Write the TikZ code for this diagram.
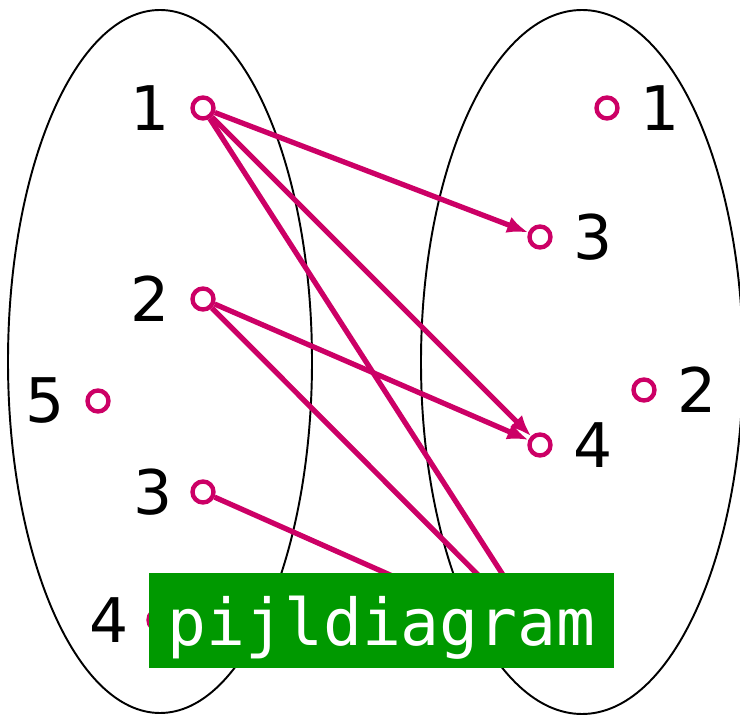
\documentclass[tikz,border=0pt]{standalone}
\usepackage{fontspec}
\setmainfont{DejaVu Sans}
\setmonofont{DejaVu Sans Mono}
\usetikzlibrary{arrows.meta, positioning}
\definecolor{Ink}{HTML}{000000}
\definecolor{Berry}{HTML}{CC0066}
\definecolor{Leaf}{HTML}{009900}

\begin{document}
\begin{tikzpicture}[
  set/.style={draw=Ink, line width=1.1pt},
  dot/.style={circle, draw=Berry, line width=2.5pt, minimum size=0.42cm, inner sep=0pt},
  num/.style={font=\fontsize{35}{35}\selectfont, text=Ink, inner sep=0pt},
  label distance=0.4cm,
  arrow/.style={-{Latex[length=0.42cm, width=0.34cm]}, line width=3pt, draw=Berry},
  link/.style={line width=3pt, draw=Berry},
  tag/.style={fill=Leaf, text=white, font=\ttfamily\fontsize{36.8}{37}\selectfont, minimum width=9.3cm, minimum height=1.9cm, inner sep=0pt, text depth=0pt}
]
\useasboundingbox (0,0) rectangle (14.8,14.28);
% the two sets
\draw[set] (3.2,7.05) ellipse [x radius=3.04, y radius=7.03];
\draw[set] (11.64,7.04) ellipse [x radius=3.22, y radius=7.04];
% left set
\node[dot, label={[num]left:1}] (a1) at (4.06,12.12) {};
\node[dot, label={[num]left:2}] (a2) at (4.06,8.30) {};
\node[dot, label={[num]left:5}] (a5) at (1.96,6.26) {};
\node[dot, label={[num, label distance=0.34cm]left:3}] (a3) at (4.06,4.44) {};
\node[dot, label={[num, label distance=0.34cm]left:4}] (a4) at (3.18,1.88) {};
% right set
\node[dot, label={[num]right:1}] (b1) at (12.14,12.12) {};
\node[dot, label={[num]right:3}] (b3) at (10.8,9.54) {};
\node[dot, label={[num]right:2}] (b2) at (12.88,6.48) {};
\node[dot, label={[num]right:4}] (b4) at (10.8,5.38) {};
\coordinate (b5) at (10.96,1.38);
% arrows
\draw[arrow] (a1) -- (b3);
\draw[arrow] (a1) -- (b4);
\draw[arrow] (a2) -- (b4);
\draw[link] (a1) -- (b5);
\draw[link] (a2) -- (b5);
\draw[link] (a3) -- (b5);
% caption
\node[tag] (title) at (7.63,1.87) {pijldiagram};
\end{tikzpicture}
\end{document}
